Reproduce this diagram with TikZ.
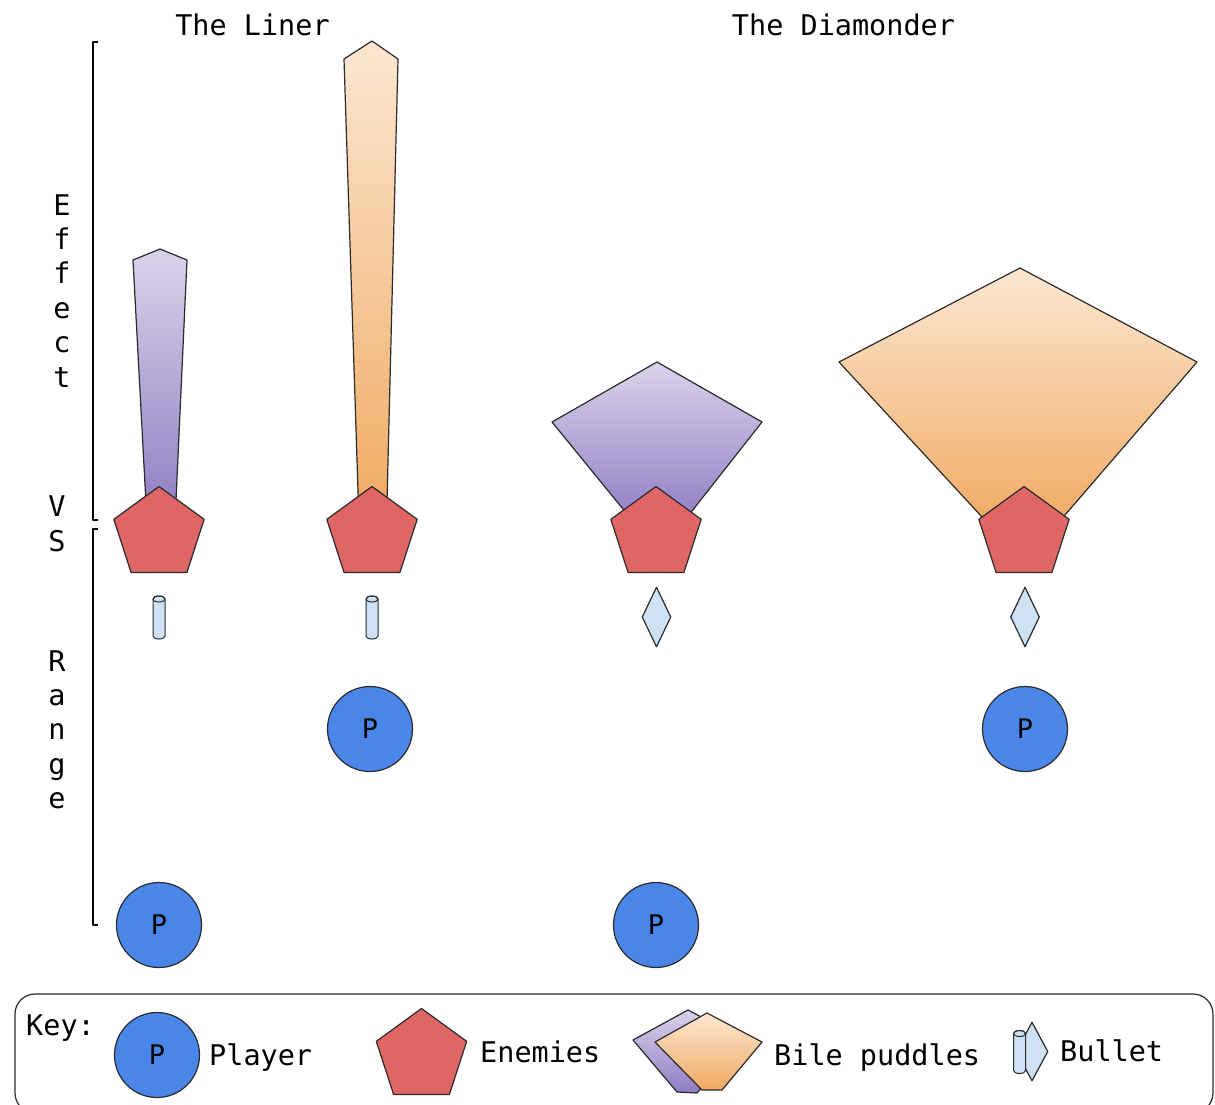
\documentclass[tikz,border=0pt]{standalone}
\usepackage{fontspec}
\setmainfont{DejaVu Sans Mono}
\usetikzlibrary{shapes.geometric}
\definecolor{enemyred}{HTML}{E06666}
\definecolor{playerblue}{HTML}{4A86E8}
\definecolor{bulletblue}{HTML}{CFE2F3}
\definecolor{purpTop}{HTML}{DAD3EA}
\definecolor{purpBot}{HTML}{8E7CC3}
\definecolor{orTop}{HTML}{FCE7D2}
\definecolor{orBot}{HTML}{F0AA62}
\definecolor{edge}{HTML}{2A2A2A}
\begin{document}
\begin{tikzpicture}[x=1pt,y=-1pt,line join=round]
\tikzset{
  outl/.style={draw=edge, line width=1.2pt},
  enemy/.style={regular polygon, regular polygon sides=5, minimum size=95pt, inner sep=0pt, outer sep=0pt, fill=enemyred, outl},
  player/.style={circle, minimum size=85pt, inner sep=0pt, fill=playerblue, outl, font=\fontsize{27}{30}\selectfont},
  lbl/.style={font=\fontsize{28.5}{34}\selectfont, inner sep=0pt},
  diam/.style={diamond, inner sep=0pt, fill=bulletblue, outl},
  purp/.style={top color=purpTop, bottom color=purpBot, outl},
  orng/.style={top color=orTop, bottom color=orBot, outl},
  cyl/.pic={
    \filldraw[fill=bulletblue, outl, line width=1pt] (-6,-18.5) -- (-6,18.5)
      arc[start angle=180, end angle=0, x radius=6, y radius=3] -- (6,-18.5)
      arc[start angle=0, end angle=-180, x radius=6, y radius=3] -- cycle;
    \draw[outl, line width=1pt] (0,-18.5) ellipse[x radius=6, y radius=3];
  }
}
\useasboundingbox (0,0) rectangle (1215,1104);

% titles
\node[lbl, anchor=base] (tliner) at (252.5,35) {The Liner};
\node[lbl, anchor=base] (tdiam) at (843.5,35) {The Diamonder};

% brackets
\draw[line width=1.2pt, black] (98,42) -- (93,42) -- (93,520) -- (98,520);
\draw[line width=1.2pt, black] (98,529) -- (93,529) -- (93,925) -- (98,925);

% vertical labels
\foreach \c [count=\i] in {E,f,f,e,c,t}
  \node[lbl, anchor=base] (eff\i) at (62,{215+34.4*(\i-1)}) {\c};
\foreach \c [count=\i] in {V,S}
  \node[lbl, anchor=base] (vs\i) at (57,{516+35*(\i-1)}) {\c};
\foreach \c [count=\i] in {R,a,n,g,e}
  \node[lbl, anchor=base] (rng\i) at (57,{671+34.4*(\i-1)}) {\c};

% bile puddles
\shadedraw[purp] (160,249) -- (187,260) -- (175,522) -- (147,522) -- (133,260) -- cycle;
\shadedraw[orng] (372,41) -- (398,59) -- (386.5,522) -- (359,522) -- (344,59) -- cycle;
\shadedraw[purp] (657,362) -- (762,422) -- (681,525) -- (636,525) -- (552,422) -- cycle;
\shadedraw[orng] (1020,268) -- (1197,362) -- (1052,530) -- (994,530) -- (839,362) -- cycle;

% enemies
\node[enemy] (en1) at (159,534) {};
\node[enemy] (en2) at (372,534) {};
\node[enemy] (en3) at (656,534) {};
\node[enemy] (en4) at (1024,534) {};

% bullets
\pic at (159,617.5) {cyl};
\pic at (372,617.5) {cyl};
\node[diam, minimum width=29pt, minimum height=60pt] (bd1) at (656.5,617) {};
\node[diam, minimum width=29pt, minimum height=60pt] (bd2) at (1025,617) {};

% players
\node[player] (p1) at (159,925) {P};
\node[player] (p2) at (370,729) {P};
\node[player] (p3) at (656,925) {P};
\node[player] (p4) at (1025,729) {P};

% key
\draw[outl, rounded corners=20pt] (15,994) rectangle (1213,1113);
\node[lbl, anchor=base west] (keylbl) at (26,1035) {Key:};
\node[player] (kp) at (157,1055) {P};
\node[lbl, anchor=base west] (kplayer) at (209,1065) {Player};
\node[enemy] (ke) at (421.5,1056) {};
\node[lbl, anchor=base west] (kenemy) at (480,1062) {Enemies};
\shadedraw[purp] (688,1010) -- (743,1039) -- (697,1093) -- (677,1092) -- (633,1040) -- cycle;
\shadedraw[orng] (707,1013) -- (762,1042) -- (722,1090) -- (702,1090) -- (655,1042) -- cycle;
\node[lbl, anchor=base west] (kbile) at (774,1065) {Bile puddles};
\node[diam, minimum width=32pt, minimum height=59pt] (kbd) at (1032,1051.5) {};
\pic at (1019.5,1052) {cyl};
\node[lbl, anchor=base west] (kbullet) at (1060,1061) {Bullet};
\end{tikzpicture}
\end{document}
